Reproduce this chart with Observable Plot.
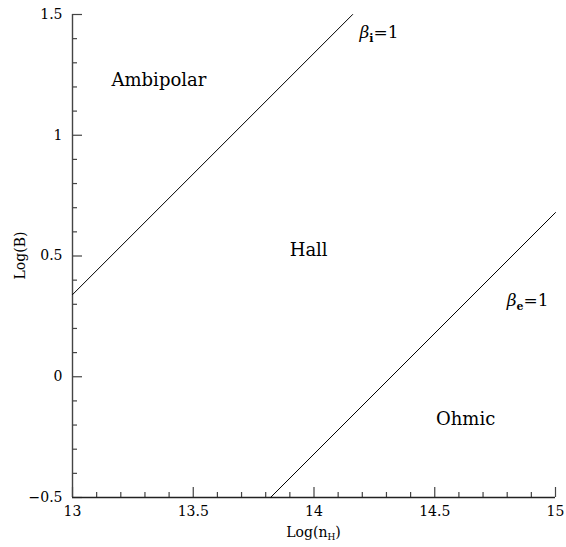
<!DOCTYPE html>
<html>
<head>
<meta charset="utf-8">
<script src="https://cdn.jsdelivr.net/npm/d3@7"></script>
<script src="https://cdn.jsdelivr.net/npm/@observablehq/plot@0.6"></script>
<style>
  html, body { margin: 0; padding: 0; background: #fff; }
  svg { display: block; }
</style>
</head>
<body>
<div id="chart"></div>
<script>
// ---- data ----
const xMajorTicks = [13, 13.5, 14, 14.5, 15];
const yMajorTicks = [-0.5, 0, 0.5, 1, 1.5];
const xMinorTicks = [13.1, 13.2, 13.3, 13.4, 13.6, 13.7, 13.8, 13.9, 14.1, 14.2, 14.3, 14.4, 14.6, 14.7, 14.8, 14.9];
const yMinorTicks = [-0.4, -0.3, -0.2, -0.1, 0.1, 0.2, 0.3, 0.4, 0.6, 0.7, 0.8, 0.9, 1.1, 1.2, 1.3, 1.4];

// beta_i = 1 boundary line
const betaIX = [13, 14.16];
const betaIY = [0.34, 1.5];
// beta_e = 1 boundary line
const betaEX = [13.82, 15];
const betaEY = [-0.5, 0.68];

// region labels (baseline positions)
const regionNames = ["Ambipolar", "Hall", "Ohmic"];
const regionX = [13.36, 13.98, 14.63];
const regionY = [1.2, 0.5, -0.2];

// beta labels (start, baseline)
const betaSubs = ["i", "e"];
const betaLabelX = [14.19, 14.80];
const betaLabelY = [1.40, 0.29];

const xLabel = ["Log(n", "H", ")"];
const yLabel = "Log(B)";

// ---- build ----
const W = 566, H = 547;
const mL = 72, mR = 11, mT = 14, mB = 50;
const frameW = W - mL - mR, frameH = H - mT - mB;
const FONT = "DejaVu Serif";

const lineI = betaIX.map((x, i) => ({x, y: betaIY[i]}));
const lineE = betaEX.map((x, i) => ({x, y: betaEY[i]}));
const regions = regionNames.map((name, i) => ({name, x: regionX[i], y: regionY[i]}));
const betas = betaSubs.map((s, i) => ({s, x: betaLabelX[i], y: betaLabelY[i]}));
const fmt = d3.format("");

const annotations = (index, scales, values, dims) => {
  const g = d3.create("svg:g").attr("font-family", FONT).attr("fill", "black");
  // region labels
  for (const r of regions) {
    g.append("text")
      .attr("x", scales.x(r.x)).attr("y", scales.y(r.y))
      .attr("text-anchor", "middle").attr("font-size", 18)
      .text(r.name);
  }
  // beta labels
  for (const b of betas) {
    const t = g.append("text")
      .attr("x", scales.x(b.x)).attr("y", scales.y(b.y))
      .attr("text-anchor", "start")
      .attr("font-size", 17);
    t.append("tspan").attr("font-style", "italic").text("β");
    t.append("tspan").attr("font-size", 11).attr("font-weight", "bold").attr("dy", 4).text(b.s);
    t.append("tspan").attr("dy", -4).text("=1");
  }
  // x axis label
  const cx = (dims.marginLeft + dims.width - dims.marginRight) / 2;
  const xt = g.append("text")
    .attr("x", cx).attr("y", dims.height - 10)
    .attr("text-anchor", "middle").attr("font-size", 14);
  xt.append("tspan").text(xLabel[0]);
  xt.append("tspan").attr("font-size", 9).attr("dy", 3).text(xLabel[1]);
  xt.append("tspan").attr("dy", -3).text(xLabel[2]);
  // y axis label
  const cy = (dims.marginTop + dims.height - dims.marginBottom) / 2;
  g.append("text")
    .attr("transform", `translate(25,${cy}) rotate(-90)`)
    .attr("text-anchor", "middle").attr("font-size", 14)
    .text(yLabel);
  return g.node();
};

const axisColor = "#444";

const chart = Plot.plot({
  width: W,
  height: H,
  marginLeft: mL,
  marginRight: mR,
  marginTop: mT,
  marginBottom: mB,
  style: {fontFamily: FONT, fontSize: "14px", background: "white", color: "black"},
  x: {domain: [13, 15], axis: null},
  y: {domain: [-0.5, 1.5], axis: null},
  marks: [
    // tick labels
    Plot.text(xMajorTicks, {x: d => d, frameAnchor: "bottom", lineAnchor: "top", dy: 9, text: d => fmt(d), fontFamily: FONT, fontSize: 14, fill: "black"}),
    Plot.text(yMajorTicks, {y: d => d, frameAnchor: "left", textAnchor: "end", dx: -10, text: d => fmt(d), fontFamily: FONT, fontSize: 14, fill: "black"}),
    // inward tick marks
    Plot.ruleX(xMajorTicks, {x: d => d, insetTop: frameH - 10, stroke: axisColor, strokeWidth: 1.2}),
    Plot.ruleX(xMinorTicks, {x: d => d, insetTop: frameH - 5, stroke: axisColor, strokeWidth: 1.2}),
    Plot.ruleY(yMajorTicks, {y: d => d, insetRight: frameW - 10, stroke: axisColor, strokeWidth: 1.2}),
    Plot.ruleY(yMinorTicks, {y: d => d, insetRight: frameW - 5, stroke: axisColor, strokeWidth: 1.2}),
    // axis lines
    Plot.ruleX([13], {x: d => d, stroke: axisColor, strokeWidth: 1.4}),
    Plot.ruleY([-0.5], {y: d => d, stroke: "#222", strokeWidth: 1.4}),
    // boundary lines
    Plot.line(lineI, {x: "x", y: "y", stroke: "black", strokeWidth: 1}),
    Plot.line(lineE, {x: "x", y: "y", stroke: "black", strokeWidth: 1}),
    annotations
  ]
});

document.getElementById("chart").appendChild(chart);
</script>
</body>
</html>
